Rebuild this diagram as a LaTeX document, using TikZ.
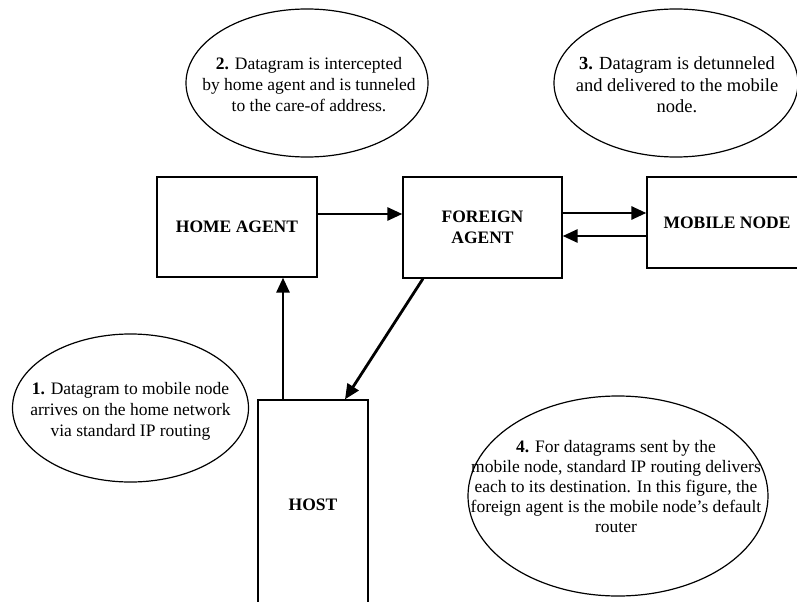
\documentclass[tikz,border=0pt]{standalone}
\usepackage{fontspec}
\setmainfont{Liberation Serif}
\usetikzlibrary{shapes.geometric,arrows.meta}
\begin{document}
\begin{tikzpicture}[x=1bp,y=-1bp,
  box/.style={draw,line width=1.3bp,rectangle,inner sep=0pt,font=\fontsize{17.5bp}{20.5bp}\selectfont\bfseries,align=center},
  note/.style={draw,line width=1.2bp,ellipse,inner sep=0pt},
  notetext/.style={inner sep=0pt,font=\fontsize{17.5bp}{21bp}\selectfont,align=center},
  arr/.style={line width=2.8bp,-{Triangle[length=15bp,width=13bp]}}]
\useasboundingbox (0,0) rectangle (797,602);
\fill[white] (0,0) rectangle (797,602);

% boxes
\node[box,minimum width=160bp,minimum height=100bp] (ha) at (237,227) {HOME AGENT};
\node[box,minimum width=159bp,minimum height=101bp] (fa) at (482.5,227.5) {FOREIGN\\AGENT};
\node[box,minimum width=160bp,minimum height=91bp] (mn) at (727,222.5) {MOBILE NODE};
\node[box,minimum width=110bp,minimum height=210bp] (host) at (313,505) {HOST};

% notes
\node[note,minimum width=242bp,minimum height=148bp] (n2) at (307,83) {};
\node[notetext] (n2t) at (309,85)
  {\textbf{2.} Datagram is intercepted\\by home agent and is tunneled\\to the care-of address.};
\node[note,minimum width=244bp,minimum height=148bp] (n3) at (676,83) {};
\node[notetext,font=\fontsize{18.5bp}{21.5bp}\selectfont] (n3t) at (677,85)
  {\textbf{3.} Datagram is detunneled\\and delivered to the mobile\\node.};
\node[note,minimum width=236bp,minimum height=148bp] (n1) at (130.5,408) {};
\node[notetext] (n1t) at (130.5,411)
  {\textbf{1.} Datagram to mobile node\\arrives on the home network\\via standard IP routing};
\node[note,minimum width=300bp,minimum height=200bp] (n4) at (618,496) {};
\node[notetext,font=\fontsize{17.5bp}{20bp}\selectfont] (n4t) at (616,487)
  {\textbf{4.} For datagrams sent by the\\mobile node, standard IP routing delivers\\each to its destination. In this figure, the\\foreign agent is the mobile node’s default\\router};

% connectors
\draw[arr] ([yshift=13bp]ha.east) -- ([yshift=13bp]ha.east -| fa.west);
\draw[arr] ([yshift=14.5bp]fa.east) -- ([yshift=14.5bp]fa.east -| mn.west);
\draw[arr] ([yshift=-13.5bp]mn.west) -- ([yshift=-13.5bp]mn.west -| fa.east);
\draw[arr] ([xshift=-30bp]host.north) -- ([xshift=-30bp]host.north |- ha.south);
\draw[arr] ([xshift=-59.5bp]fa.south) -- ([xshift=32bp]host.north);
\end{tikzpicture}
\end{document}
